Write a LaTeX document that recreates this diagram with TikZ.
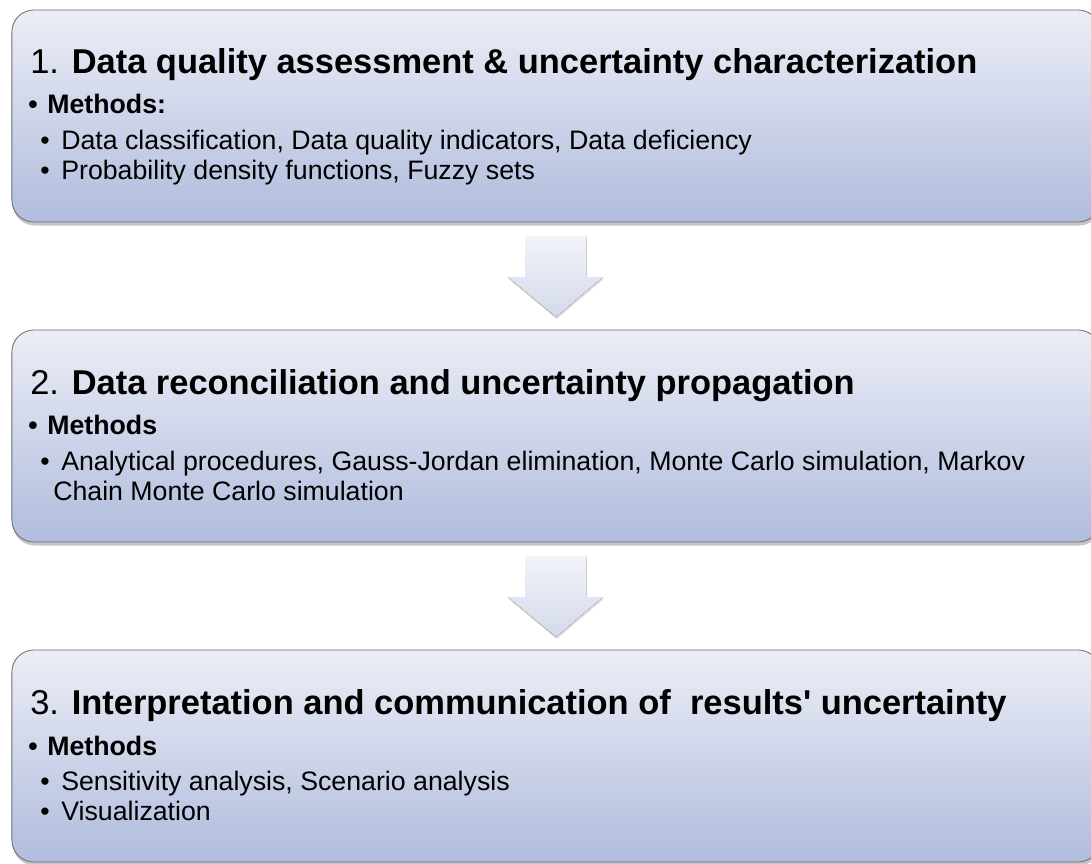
\documentclass[tikz,border=0pt]{standalone}
\usepackage{fontspec}
\setmainfont{Liberation Sans}
\usetikzlibrary{shadows}

\definecolor{boxtop}{RGB}{236,238,246}
\definecolor{boxbottom}{RGB}{176,188,221}
\definecolor{boxline}{RGB}{110,110,115}
\definecolor{arrowtop}{RGB}{242,243,249}
\definecolor{arrowbottom}{RGB}{212,218,235}

\newcommand{\bul}[1]{\makebox[#1][l]{\textbullet}}

\begin{document}
\begin{tikzpicture}[x=0.025cm, y=-0.025cm,
    stagebox/.style={rectangle, rounded corners=0.55cm, draw=boxline, line width=0.6pt,
      top color=boxtop, bottom color=boxbottom, minimum width=27.2cm, minimum height=5.3cm,
      drop shadow={shadow xshift=0.6pt, shadow yshift=-2.5pt, opacity=0.45}},
    title/.style={anchor=base west, inner sep=0pt, font=\fontsize{24.5}{28}\selectfont},
    head/.style={anchor=base west, inner sep=0pt, font=\fontsize{19}{21.26}\selectfont\bfseries},
    item/.style={anchor=base west, inner sep=0pt, align=left, font=\fontsize{19}{21.26}\selectfont},
    flowarrow/.style={top color=arrowtop, bottom color=arrowbottom,
      drop shadow={shadow xshift=0.5pt, shadow yshift=-1.5pt, opacity=0.25}}]
  \clip (0,0) rectangle (1091,863);
  \useasboundingbox (0,0) rectangle (1091,863);
  % the three stages
  \node[stagebox] (s1) at (556,116) {};
  \node[stagebox] (s2) at (556,436) {};
  \node[stagebox] (s3) at (556,756) {};
  % stage 1
  \node[title] (t1) at (30,73) {1. \textbf{Data quality assessment \& uncertainty characterization}};
  \node[head] (m1) at (28,113) {\bul{0.475cm}Methods:};
  \node[item] (i11) at (40,149) {\bul{0.525cm}Data classification, Data quality indicators, Data deficiency};
  \node[item] (i12) at (40,179) {\bul{0.525cm}Probability density functions, Fuzzy sets};
  % stage 2
  \node[title] (t2) at (30,394) {2. \textbf{Data reconciliation and uncertainty propagation}};
  \node[head] (m2) at (28,434) {\bul{0.475cm}Methods};
  \node[item] (i21) at (40,500) {\bul{0.525cm}Analytical procedures, Gauss-Jordan elimination, Monte Carlo simulation, Markov\\
    \hspace*{0.325cm}Chain Monte Carlo simulation};
  % stage 3
  \node[title] (t3) at (30,714) {3. \textbf{Interpretation and communication of\ \ results\textquotesingle\ uncertainty}};
  \node[head] (m3) at (28,755) {\bul{0.475cm}Methods};
  \node[item] (i31) at (40,790) {\bul{0.525cm}Sensitivity analysis, Scenario analysis};
  \node[item] (i32) at (40,820) {\bul{0.525cm}Visualization};
  % block arrows
  \fill[flowarrow] (525,236) -- (586,236) -- (586,277) -- (603,277) -- (556,317) -- (508,277) -- (525,277) -- cycle;
  \fill[flowarrow] (525,556) -- (586,556) -- (586,597) -- (603,597) -- (556,637) -- (508,597) -- (525,597) -- cycle;
\end{tikzpicture}
\end{document}
